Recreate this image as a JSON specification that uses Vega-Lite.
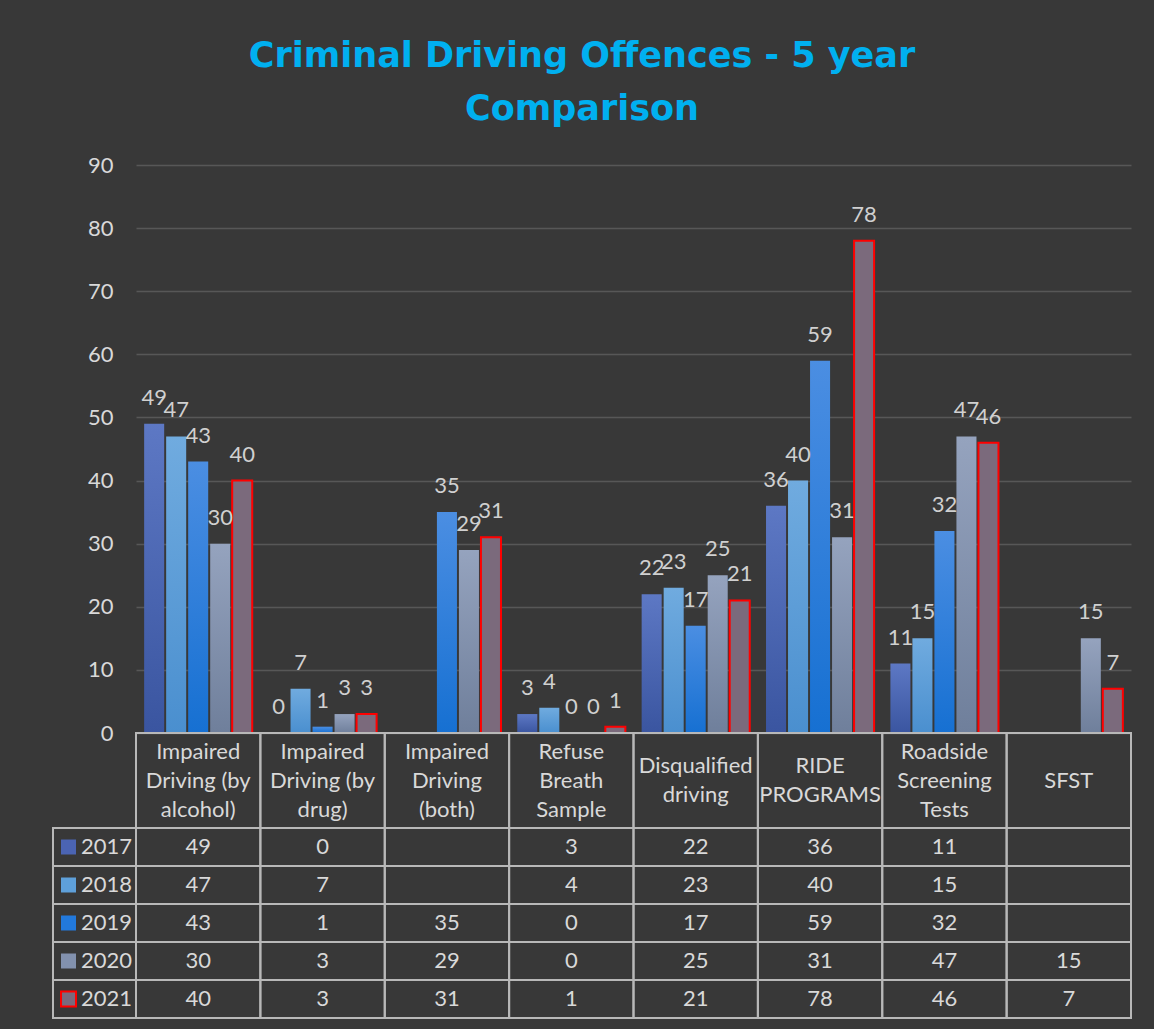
{
  "$schema": "https://vega.github.io/schema/vega-lite/v6.json",
  "background": "#383838",
  "padding": {"left": 52, "top": 39, "right": 24, "bottom": 11},
  "title": {
    "text": ["Criminal Driving Offences - 5 year", "Comparison"],
    "anchor": "middle",
    "frame": "bounds",
    "font": "DejaVu Sans",
    "fontSize": 35,
    "fontWeight": "bold",
    "color": "#00B0F0",
    "lineHeight": 53,
    "offset": 27,
    "dx": -10
  },
  "config": {
    "view": {"stroke": null},
    "font": "Lato",
    "text": {"font": "Lato"}
  },
  "datasets": {
    "counts": [
      {"cat": "Impaired Driving (by alcohol)", "year": "2017", "value": 49},
      {"cat": "Impaired Driving (by alcohol)", "year": "2018", "value": 47},
      {"cat": "Impaired Driving (by alcohol)", "year": "2019", "value": 43},
      {"cat": "Impaired Driving (by alcohol)", "year": "2020", "value": 30},
      {"cat": "Impaired Driving (by alcohol)", "year": "2021", "value": 40},
      {"cat": "Impaired Driving (by drug)", "year": "2017", "value": 0},
      {"cat": "Impaired Driving (by drug)", "year": "2018", "value": 7},
      {"cat": "Impaired Driving (by drug)", "year": "2019", "value": 1},
      {"cat": "Impaired Driving (by drug)", "year": "2020", "value": 3},
      {"cat": "Impaired Driving (by drug)", "year": "2021", "value": 3},
      {"cat": "Impaired Driving (both)", "year": "2017", "value": null},
      {"cat": "Impaired Driving (both)", "year": "2018", "value": null},
      {"cat": "Impaired Driving (both)", "year": "2019", "value": 35},
      {"cat": "Impaired Driving (both)", "year": "2020", "value": 29},
      {"cat": "Impaired Driving (both)", "year": "2021", "value": 31},
      {"cat": "Refuse Breath Sample", "year": "2017", "value": 3},
      {"cat": "Refuse Breath Sample", "year": "2018", "value": 4},
      {"cat": "Refuse Breath Sample", "year": "2019", "value": 0},
      {"cat": "Refuse Breath Sample", "year": "2020", "value": 0},
      {"cat": "Refuse Breath Sample", "year": "2021", "value": 1},
      {"cat": "Disqualified driving", "year": "2017", "value": 22},
      {"cat": "Disqualified driving", "year": "2018", "value": 23},
      {"cat": "Disqualified driving", "year": "2019", "value": 17},
      {"cat": "Disqualified driving", "year": "2020", "value": 25},
      {"cat": "Disqualified driving", "year": "2021", "value": 21},
      {"cat": "RIDE PROGRAMS", "year": "2017", "value": 36},
      {"cat": "RIDE PROGRAMS", "year": "2018", "value": 40},
      {"cat": "RIDE PROGRAMS", "year": "2019", "value": 59},
      {"cat": "RIDE PROGRAMS", "year": "2020", "value": 31},
      {"cat": "RIDE PROGRAMS", "year": "2021", "value": 78},
      {"cat": "Roadside Screening Tests", "year": "2017", "value": 11},
      {"cat": "Roadside Screening Tests", "year": "2018", "value": 15},
      {"cat": "Roadside Screening Tests", "year": "2019", "value": 32},
      {"cat": "Roadside Screening Tests", "year": "2020", "value": 47},
      {"cat": "Roadside Screening Tests", "year": "2021", "value": 46},
      {"cat": "SFST", "year": "2017", "value": null},
      {"cat": "SFST", "year": "2018", "value": null},
      {"cat": "SFST", "year": "2019", "value": null},
      {"cat": "SFST", "year": "2020", "value": 15},
      {"cat": "SFST", "year": "2021", "value": 7}
    ],
    "cats": [
      {"cat": "Impaired Driving (by alcohol)", "label": "Impaired\nDriving (by\nalcohol)"},
      {"cat": "Impaired Driving (by drug)", "label": "Impaired\nDriving (by\ndrug)"},
      {"cat": "Impaired Driving (both)", "label": "Impaired\nDriving\n(both)"},
      {"cat": "Refuse Breath Sample", "label": "Refuse\nBreath\nSample"},
      {"cat": "Disqualified driving", "label": "Disqualified\ndriving"},
      {"cat": "RIDE PROGRAMS", "label": "RIDE\nPROGRAMS"},
      {"cat": "Roadside Screening Tests", "label": "Roadside\nScreening\nTests"},
      {"cat": "SFST", "label": "SFST"}
    ],
    "years": [
      {"year": "2017"}, {"year": "2018"}, {"year": "2019"}, {"year": "2020"}, {"year": "2021"}
    ]
  },
  "columns": 2,
  "spacing": 0,
  "bounds": "flush",
  "concat": [
    {
      "width": 83, "height": 568,
      "data": {"values": []},
      "mark": "point",
      "encoding": {}
    },
    {
      "width": 995, "height": 568,
      "data": {"name": "counts"},
      "encoding": {
        "x": {"field": "cat", "type": "nominal", "axis": null,
          "scale": {"domain": ["Impaired Driving (by alcohol)", "Impaired Driving (by drug)", "Impaired Driving (both)", "Refuse Breath Sample", "Disqualified driving", "RIDE PROGRAMS", "Roadside Screening Tests", "SFST"], "paddingInner": 0, "paddingOuter": 0}},
        "xOffset": {"field": "year", "type": "nominal",
          "scale": {"domain": ["2017", "2018", "2019", "2020", "2021"], "paddingInner": 0.09, "paddingOuter": 0.37}},
        "y": {"field": "value", "type": "quantitative",
          "scale": {"domain": [0, 90], "nice": false},
          "axis": {"title": null, "values": [0, 10, 20, 30, 40, 50, 60, 70, 80, 90], "grid": true, "gridColor": "#575757", "gridWidth": 1.3, "domain": false, "ticks": false, "labelPadding": 23, "labelFontSize": 22, "labelColor": "#d9d9d9", "labelFont": "Lato"}}
      },
      "layer": [
        {"transform": [{"filter": "datum.year == '2017'"}],
          "mark": {"type": "bar", "color": {"gradient": "linear", "x1": 0, "y1": 0, "x2": 0, "y2": 1, "stops": [{"offset": 0, "color": "#5d78c4"}, {"offset": 1, "color": "#3a55a0"}]}}},
        {"transform": [{"filter": "datum.year == '2018'"}],
          "mark": {"type": "bar", "color": {"gradient": "linear", "x1": 0, "y1": 0, "x2": 0, "y2": 1, "stops": [{"offset": 0, "color": "#70abdf"}, {"offset": 1, "color": "#4a8fcf"}]}}},
        {"transform": [{"filter": "datum.year == '2019'"}],
          "mark": {"type": "bar", "color": {"gradient": "linear", "x1": 0, "y1": 0, "x2": 0, "y2": 1, "stops": [{"offset": 0, "color": "#4b8ee2"}, {"offset": 1, "color": "#1670d2"}]}}},
        {"transform": [{"filter": "datum.year == '2020'"}],
          "mark": {"type": "bar", "color": {"gradient": "linear", "x1": 0, "y1": 0, "x2": 0, "y2": 1, "stops": [{"offset": 0, "color": "#95a3be"}, {"offset": 1, "color": "#6f7f9b"}]}}},
        {"transform": [{"filter": "datum.year == '2021'"}],
          "mark": {"type": "bar", "fill": "#7b6a7c", "stroke": "#ff0000", "strokeWidth": 2}},
        {"transform": [{"filter": "datum.value != null"}],
          "mark": {"type": "text", "baseline": "alphabetic", "dy": -19, "fontSize": 22, "color": "#d0d0d0"},
          "encoding": {"text": {"field": "value", "type": "quantitative"}}}
      ]
    },
    {
      "width": 83, "height": 95,
      "data": {"values": []},
      "mark": "point",
      "encoding": {}
    },
    {
      "width": 995, "height": 95,
      "data": {"name": "cats"},
      "encoding": {
        "x": {"field": "cat", "type": "nominal", "axis": null,
          "scale": {"domain": ["Impaired Driving (by alcohol)", "Impaired Driving (by drug)", "Impaired Driving (both)", "Refuse Breath Sample", "Disqualified driving", "RIDE PROGRAMS", "Roadside Screening Tests", "SFST"], "paddingInner": 0, "paddingOuter": 0}}
      },
      "layer": [
        {"mark": {"type": "rect", "fillOpacity": 0, "fill": "#000000", "stroke": "#b8b8b8", "strokeWidth": 2}},
        {"transform": [{"filter": "length(split(datum.label, '\\n')) == 3"}],
          "mark": {"type": "text", "lineBreak": "\n", "lineHeight": 29, "fontSize": 22, "color": "#d9d9d9", "baseline": "middle", "dy": -29},
          "encoding": {"text": {"field": "label"}}},
        {"transform": [{"filter": "length(split(datum.label, '\\n')) == 2"}],
          "mark": {"type": "text", "lineBreak": "\n", "lineHeight": 29, "fontSize": 22, "color": "#d9d9d9", "baseline": "middle", "dy": -14.5},
          "encoding": {"text": {"field": "label"}}},
        {"transform": [{"filter": "length(split(datum.label, '\\n')) == 1"}],
          "mark": {"type": "text", "lineBreak": "\n", "lineHeight": 29, "fontSize": 22, "color": "#d9d9d9", "baseline": "middle"},
          "encoding": {"text": {"field": "label"}}}
      ]
    },
    {
      "width": 83, "height": 190,
      "data": {"name": "years"},
      "encoding": {
        "y": {"field": "year", "type": "nominal", "axis": null, "scale": {"paddingInner": 0, "paddingOuter": 0}}
      },
      "layer": [
        {"mark": {"type": "rect", "fillOpacity": 0, "fill": "#000000", "stroke": "#b8b8b8", "strokeWidth": 2}},
        {"mark": {"type": "point", "shape": "square", "filled": true, "size": 225, "opacity": 1},
          "encoding": {
            "x": {"datum": 0.187, "type": "quantitative", "scale": {"domain": [0, 1], "nice": false, "zero": false}, "axis": null},
            "color": {"field": "year", "type": "nominal", "legend": null,
              "scale": {"domain": ["2017", "2018", "2019", "2020", "2021"], "range": ["#4b64b3", "#5ea0da", "#2279dc", "#8291ae", "#7a6a7d"]}},
            "stroke": {"condition": {"test": "datum.year == '2021'", "value": "#ff0000"}, "value": null},
            "strokeWidth": {"value": 2}
          }},
        {"mark": {"type": "text", "align": "left", "fontSize": 22, "color": "#d9d9d9"},
          "encoding": {
            "x": {"datum": 0.337, "type": "quantitative", "scale": {"domain": [0, 1], "nice": false, "zero": false}, "axis": null},
            "text": {"field": "year"}
          }}
      ]
    },
    {
      "width": 995, "height": 190,
      "data": {"name": "counts"},
      "encoding": {
        "x": {"field": "cat", "type": "nominal", "axis": null,
          "scale": {"domain": ["Impaired Driving (by alcohol)", "Impaired Driving (by drug)", "Impaired Driving (both)", "Refuse Breath Sample", "Disqualified driving", "RIDE PROGRAMS", "Roadside Screening Tests", "SFST"], "paddingInner": 0, "paddingOuter": 0}},
        "y": {"field": "year", "type": "nominal", "axis": null, "scale": {"paddingInner": 0, "paddingOuter": 0}}
      },
      "layer": [
        {"mark": {"type": "rect", "fillOpacity": 0, "fill": "#000000", "stroke": "#b8b8b8", "strokeWidth": 2}},
        {"transform": [{"filter": "datum.value != null"}],
          "mark": {"type": "text", "fontSize": 22, "color": "#d9d9d9"},
          "encoding": {"text": {"field": "value", "type": "quantitative"}}}
      ]
    }
  ]
}
